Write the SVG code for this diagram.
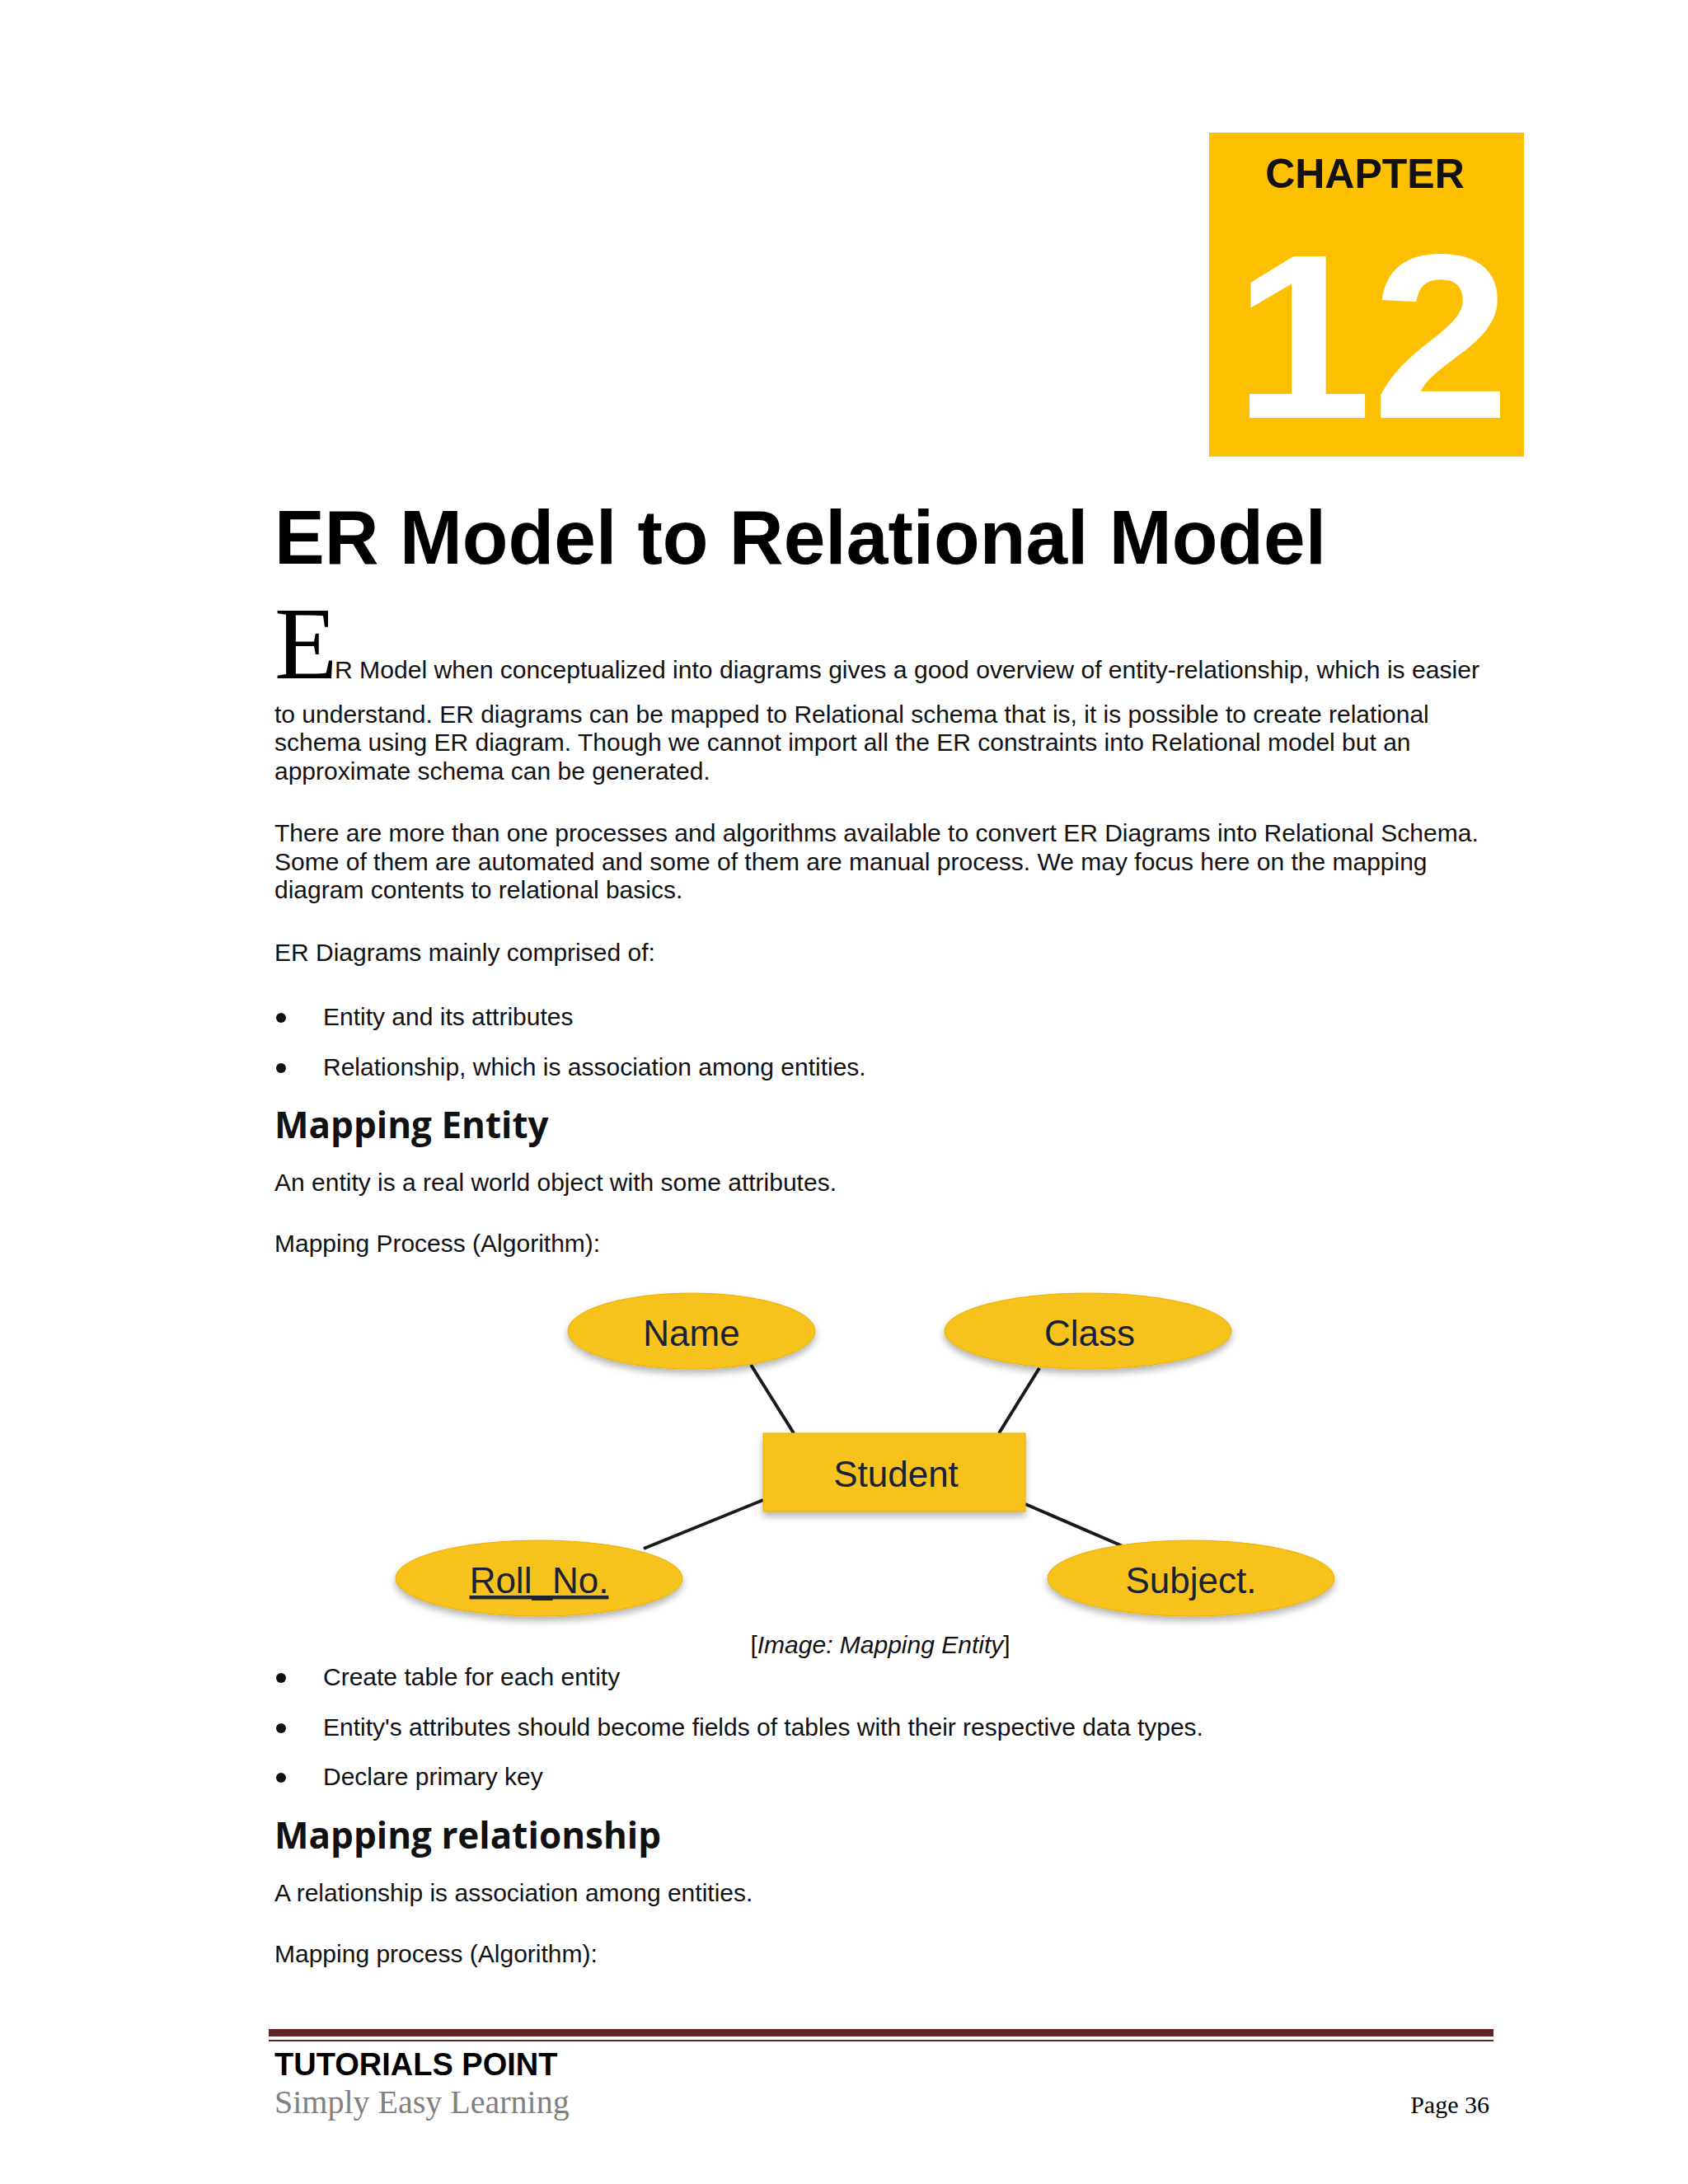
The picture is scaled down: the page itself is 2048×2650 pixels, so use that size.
<svg xmlns="http://www.w3.org/2000/svg" width="2048" height="2650" viewBox="0 0 2048 2650">
<defs>
<style>
.b{font-family:"Liberation Sans",Arial,sans-serif;font-size:30px;fill:#111}
.h{font-family:"Open Sans","Noto Sans",sans-serif;font-size:44px;font-weight:bold;fill:#111}
.n{font-family:"Liberation Sans",Arial,sans-serif;font-size:44px;fill:#1a2238;text-anchor:middle}
.sh{fill:#f7c21a;stroke:#e8b000;stroke-width:1}
.c{stroke:#1a1a1a;stroke-width:4}
</style>
<filter id="ds" x="-20%" y="-20%" width="140%" height="160%"><feDropShadow dx="0" dy="5" stdDeviation="4" flood-color="#000" flood-opacity="0.3"/></filter>
</defs>
<rect width="2048" height="2650" fill="#fff"/>
<g id="chapter">
<rect x="1467" y="161" width="382" height="393" fill="#fcc000"/>
<text x="1656" y="228" font-family="Liberation Sans,Arial,sans-serif" font-size="50" font-weight="bold" text-anchor="middle" fill="#111">CHAPTER</text>
<text x="1497" y="507" font-family="Liberation Sans,Arial,sans-serif" font-size="285" font-weight="bold" fill="#fff" textLength="335" lengthAdjust="spacingAndGlyphs">12</text>
</g>
<text x="333" y="684" font-family="Liberation Sans,Arial,sans-serif" font-size="92" font-weight="bold" fill="#000" textLength="1276" lengthAdjust="spacingAndGlyphs">ER Model to Relational Model</text>
<text x="333" y="823" font-family="Liberation Serif,serif" font-size="125" fill="#000">E</text>
<text class="b" x="406" y="823" textLength="1389" lengthAdjust="spacingAndGlyphs">R Model when conceptualized into diagrams gives a good overview of entity-relationship, which is easier</text>
<text class="b" x="333" y="877">to understand. ER diagrams can be mapped to Relational schema that is, it is possible to create relational</text>
<text class="b" x="333" y="911">schema using ER diagram. Though we cannot import all the ER constraints into Relational model but an</text>
<text class="b" x="333" y="946">approximate schema can be generated.</text>
<text class="b" x="333" y="1021">There are more than one processes and algorithms available to convert ER Diagrams into Relational Schema.</text>
<text class="b" x="333" y="1056">Some of them are automated and some of them are manual process. We may focus here on the mapping</text>
<text class="b" x="333" y="1090">diagram contents to relational basics.</text>
<text class="b" x="333" y="1166">ER Diagrams mainly comprised of:</text>
<circle cx="341" cy="1235" r="6" fill="#111"/><text class="b" x="392" y="1244">Entity and its attributes</text>
<circle cx="341" cy="1296" r="6" fill="#111"/><text class="b" x="392" y="1305">Relationship, which is association among entities.</text>
<text class="h" x="333" y="1381">Mapping Entity</text>
<text class="b" x="333" y="1445">An entity is a real world object with some attributes.</text>
<text class="b" x="333" y="1519">Mapping Process (Algorithm):</text>
<g id="connectors">
<line class="c" x1="911" y1="1656" x2="963" y2="1739"/>
<line class="c" x1="1261" y1="1660" x2="1212" y2="1739"/>
<line class="c" x1="781" y1="1879" x2="926" y2="1820"/>
<line class="c" x1="1244" y1="1825" x2="1362" y2="1876"/>
</g>
<g id="name"><ellipse class="sh" filter="url(#ds)" cx="839" cy="1615" rx="150" ry="46"/><text class="n" x="839" y="1633">Name</text></g>
<g id="class"><ellipse class="sh" filter="url(#ds)" cx="1320" cy="1615" rx="174" ry="46"/><text class="n" x="1322" y="1633">Class</text></g>
<g id="student"><rect class="sh" filter="url(#ds)" x="926" y="1739" width="318" height="95"/><text class="n" x="1087" y="1804">Student</text></g>
<g id="rollno"><ellipse class="sh" filter="url(#ds)" cx="654" cy="1915" rx="174" ry="46"/><text class="n" x="654" y="1933" text-decoration="underline">Roll_No.</text></g>
<g id="subject"><ellipse class="sh" filter="url(#ds)" cx="1445" cy="1915" rx="174" ry="46"/><text class="n" x="1445" y="1933">Subject.</text></g>
<text class="b" x="1068" y="2006" text-anchor="middle">[<tspan font-style="italic">Image: Mapping Entity</tspan>]</text>
<circle cx="341" cy="2036" r="6" fill="#111"/><text class="b" x="392" y="2045">Create table for each entity</text>
<circle cx="341" cy="2097" r="6" fill="#111"/><text class="b" x="392" y="2106">Entity's attributes should become fields of tables with their respective data types.</text>
<circle cx="341" cy="2157" r="6" fill="#111"/><text class="b" x="392" y="2166">Declare primary key</text>
<text class="h" x="333" y="2243">Mapping relationship</text>
<text class="b" x="333" y="2307">A relationship is association among entities.</text>
<text class="b" x="333" y="2381">Mapping process (Algorithm):</text>
<rect x="326" y="2462" width="1486" height="9" fill="#622423"/>
<rect x="326" y="2475" width="1486" height="2" fill="#622423"/>
<text x="333" y="2518" font-family="Liberation Sans,Arial,sans-serif" font-size="38" font-weight="bold" fill="#000">TUTORIALS POINT</text>
<text x="333" y="2564" font-family="Liberation Serif,serif" font-size="40" fill="#808080">Simply Easy Learning</text>
<text x="1807" y="2564" font-family="Liberation Serif,serif" font-size="30" fill="#000" text-anchor="end">Page 36</text>
</svg>
